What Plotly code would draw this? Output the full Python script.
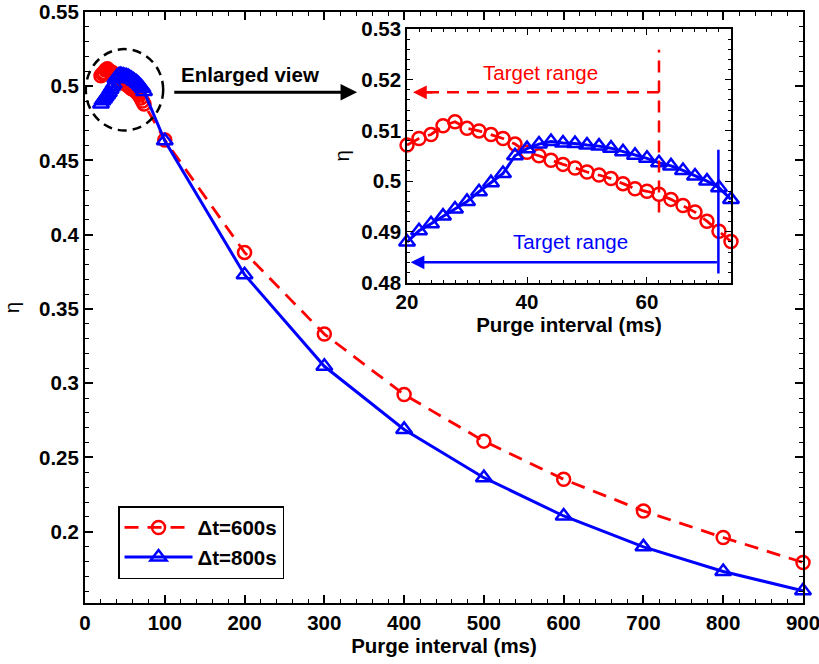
import plotly.graph_objects as go

# Purge interval (ms) and stack efficiency eta for two operating durations
x_fine = [20, 22, 24, 26, 28, 30, 32, 34, 36, 38, 40, 42, 44, 46, 48, 50, 52, 54,
          56, 58, 60, 62, 64, 66, 68, 70, 72, 74]
eta600_fine = [0.5071, 0.5084, 0.5092, 0.5109, 0.5117, 0.5104, 0.5099, 0.5092,
               0.5084, 0.5073, 0.5057, 0.5050, 0.5041, 0.5033, 0.5026, 0.5018,
               0.5012, 0.5005, 0.4995, 0.4985, 0.4980, 0.4974, 0.4964, 0.4952,
               0.4939, 0.4921, 0.4901, 0.4881]
eta800_fine = [0.4880, 0.4902, 0.4916, 0.4931, 0.4945, 0.4960, 0.4979, 0.4997,
               0.5015, 0.5050, 0.5064, 0.5073, 0.5078, 0.5075, 0.5074, 0.5071,
               0.5069, 0.5065, 0.5058, 0.5051, 0.5045, 0.5036, 0.5030, 0.5021,
               0.5010, 0.5000, 0.4987, 0.4964]

x_coarse = [100, 200, 300, 400, 500, 600, 700, 800, 900]
eta600_coarse = [0.4638, 0.3881, 0.3331, 0.2924, 0.2610, 0.2353, 0.2140, 0.1961, 0.1793]
eta800_coarse = [0.4633, 0.3731, 0.3114, 0.2689, 0.2364, 0.2106, 0.1898, 0.1732, 0.1602]

series_names = ["Δt=600s", "Δt=800s"]

main_xticks = [0, 100, 200, 300, 400, 500, 600, 700, 800, 900]
main_yticks = [0.2, 0.25, 0.3, 0.35, 0.4, 0.45, 0.5, 0.55]
main_yticktext = ["0.2", "0.25", "0.3", "0.35", "0.4", "0.45", "0.5", "0.55"]
inset_xticks = [20, 40, 60]
inset_yticks = [0.48, 0.49, 0.5, 0.51, 0.52, 0.53]
inset_yticktext = ["0.48", "0.49", "0.5", "0.51", "0.52", "0.53"]

RED = "#ff0000"
BLUE = "#0000ff"
FONT = "Liberation Sans"
FS = 20.5

red_line = dict(color=RED, width=2.8, dash="14px,9px")
blue_line = dict(color=BLUE, width=3)
red_marker = dict(symbol="circle-open", size=13, color=RED, line=dict(width=2.5, color=RED))
blue_marker = dict(symbol="triangle-up-open", size=14, color=BLUE, line=dict(width=2.5, color=BLUE))

fig = go.Figure()

# main axes: full range of purge intervals
fig.add_trace(go.Scatter(x=x_fine + x_coarse, y=eta600_fine + eta600_coarse,
                         mode="lines+markers", name=series_names[0], cliponaxis=False,
                         line=red_line, marker=red_marker))
fig.add_trace(go.Scatter(x=x_fine + x_coarse, y=eta800_fine + eta800_coarse,
                         mode="lines+markers", name=series_names[1], cliponaxis=False,
                         line=blue_line, marker=blue_marker))

# inset axes: short purge intervals
fig.add_trace(go.Scatter(x=x_fine, y=eta600_fine, mode="lines+markers", cliponaxis=False,
                         line=red_line, marker=red_marker, showlegend=False,
                         xaxis="x2", yaxis="y2"))
fig.add_trace(go.Scatter(x=x_fine, y=eta800_fine, mode="lines+markers", cliponaxis=False,
                         line=blue_line, marker=blue_marker, showlegend=False,
                         xaxis="x2", yaxis="y2"))

axis_common = dict(showline=True, linecolor="black", mirror="allticks",
                   ticks="inside", tickcolor="black", showgrid=False, zeroline=False,
                   ticklabeloverflow="allow", automargin=False,
                   tickfont=dict(family=FONT, size=FS, color="black", weight="bold"))

fig.update_layout(
    width=819, height=664,
    margin=dict(l=85, r=16, t=12, b=61, autoexpand=False),
    paper_bgcolor="white", plot_bgcolor="white",
    font=dict(family=FONT, size=FS, color="black"),
    xaxis=dict(range=[0, 900], tickmode="array", tickvals=main_xticks,
               ticklen=8, linewidth=2, tickwidth=1.5,
               minor=dict(dtick=20, tick0=0, ticklen=4, ticks="inside", tickcolor="black", tickwidth=1.2),
               title=dict(text="<b>Purge interval (ms)</b>", standoff=6,
                          font=dict(family=FONT, size=FS)),
               **axis_common),
    yaxis=dict(range=[0.152, 0.55], tickmode="array", tickvals=main_yticks,
               ticktext=main_yticktext, ticklen=8, linewidth=2, tickwidth=1.5,
               minor=dict(dtick=0.01, tick0=0.15, ticklen=4, ticks="inside", tickcolor="black", tickwidth=1.2),
               title=dict(text="η", standoff=14, font=dict(family=FONT, size=FS)),
               **axis_common),
    xaxis2=dict(domain=[0.4485, 0.8997], anchor="y2", range=[20, 74],
                tickmode="array", tickvals=inset_xticks, ticklen=6, linewidth=1.5, tickwidth=1.2,
                minor=dict(dtick=2, tick0=20, ticklen=3, ticks="inside", tickcolor="black", tickwidth=1),
                title=dict(text="<b>Purge interval (ms)</b>", standoff=4,
                           font=dict(family=FONT, size=FS)),
                **axis_common),
    yaxis2=dict(domain=[0.5422, 0.9713], anchor="x2", range=[0.48, 0.53],
                tickmode="array", tickvals=inset_yticks, ticktext=inset_yticktext,
                ticklen=6, linewidth=1.5, tickwidth=1.2,
                minor=dict(dtick=0.002, tick0=0.48, ticklen=3, ticks="inside", tickcolor="black", tickwidth=1),
                title=dict(text="η", standoff=6, font=dict(family=FONT, size=FS)),
                **axis_common),
    legend=dict(x=0.046, y=0.1639, xanchor="left", yanchor="top",
                bgcolor="white", bordercolor="black", borderwidth=1.5,
                itemwidth=68, font=dict(family=FONT, size=FS, weight="bold")),
)

shapes = [
    # dashed ring marking the zoomed region
    dict(type="circle", xref="x", yref="y", x0=1, x1=98, y0=0.4702, y1=0.525,
         line=dict(color="black", width=2.5, dash="9px,6px")),
    # red target range guides
    dict(type="line", xref="x2", yref="y2", x0=62, x1=62, y0=0.4938, y1=0.5259,
         line=dict(color=RED, width=2.5, dash="12px,8px")),
    dict(type="line", xref="x2", yref="y2", x0=62, x1=22.5, y0=0.5175, y1=0.5175,
         line=dict(color=RED, width=2.5, dash="12px,8px")),
    # blue target range guide
    dict(type="line", xref="x2", yref="y2", x0=71.9, x1=71.9, y0=0.4818, y1=0.5062,
         line=dict(color=BLUE, width=2.5)),
]
fig.update_layout(shapes=shapes)

annotations = [
    dict(x=341, y=0.4959, ax=110, ay=0.4959, xref="x", yref="y", axref="x", ayref="y",
         text="", showarrow=True, arrowhead=2, arrowsize=1.1, arrowwidth=3, arrowcolor="black"),
    dict(x=207, y=0.5077, xref="x", yref="y", text="<b>Enlarged view</b>", showarrow=False,
         font=dict(family=FONT, size=FS, color="black")),
    dict(x=21.0, y=0.5175, ax=24.5, ay=0.5175, xref="x2", yref="y2", axref="x2", ayref="y2",
         text="", showarrow=True, arrowhead=2, arrowsize=1.1, arrowwidth=2.5, arrowcolor=RED),
    dict(x=42.2, y=0.5215, xref="x2", yref="y2", text="Target range", showarrow=False,
         font=dict(family=FONT, size=FS, color=RED)),
    dict(x=20.6, y=0.4840, ax=71.9, ay=0.4840, xref="x2", yref="y2", axref="x2", ayref="y2",
         text="", showarrow=True, arrowhead=2, arrowsize=1.1, arrowwidth=2.5, arrowcolor=BLUE),
    dict(x=47.2, y=0.4881, xref="x2", yref="y2", text="Target range", showarrow=False,
         font=dict(family=FONT, size=FS, color=BLUE)),
]
fig.update_layout(annotations=annotations)

fig.write_html("out.html")
